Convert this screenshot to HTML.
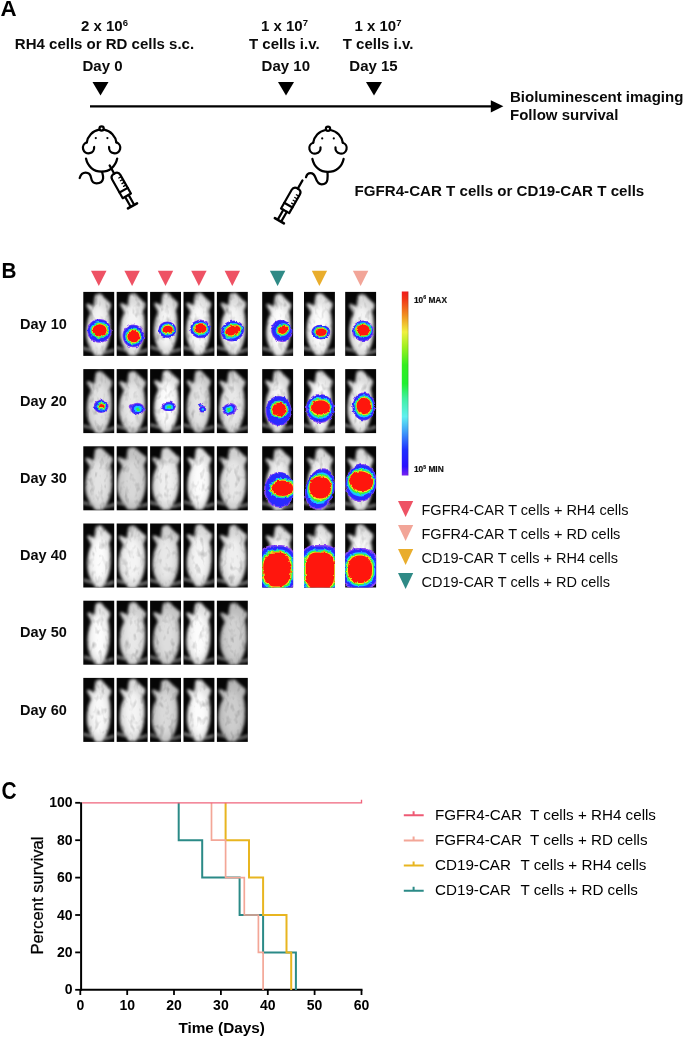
<!DOCTYPE html>
<html lang="en"><head><meta charset="utf-8"><title>Figure</title>
<style>
html,body{margin:0;padding:0;background:#fff;}
body{width:685px;height:1038px;overflow:hidden;}
svg{display:block;}
text{font-family:"Liberation Sans",sans-serif;fill:#0a0a0a;}
.b{font-weight:bold;}
.t15{font-size:15px;font-weight:bold;}
.pl{font-size:22.3px;font-weight:bold;fill:#000;}
.dl{font-size:14.5px;font-weight:bold;}
.lg{font-size:14.5px;}
.tk{font-size:14px;font-weight:bold;fill:#000;}
.cb{font-size:9.3px;font-weight:bold;fill:#111;stroke:#111;stroke-width:0.2px;}
</style></head><body>
<svg width="685" height="1038" viewBox="0 0 685 1038">
<defs>
<filter id="bl1" x="-20%" y="-20%" width="140%" height="140%"><feGaussianBlur stdDeviation="1.6"/></filter>
<filter id="bl2" x="-20%" y="-20%" width="140%" height="140%"><feGaussianBlur stdDeviation="0.7"/></filter>
<filter id="bl3" x="-20%" y="-20%" width="140%" height="140%"><feGaussianBlur stdDeviation="2.5"/></filter>
<filter id="sg" x="-20%" y="-20%" width="140%" height="140%"><feTurbulence type="fractalNoise" baseFrequency="0.3" numOctaves="2" seed="11" result="t"/><feDisplacementMap in="SourceGraphic" in2="t" scale="3" xChannelSelector="R" yChannelSelector="G" result="d"/><feGaussianBlur in="d" stdDeviation="0.55"/></filter>
<filter id="soft" x="-5%" y="-5%" width="110%" height="110%"><feGaussianBlur stdDeviation="0.35"/></filter>
<linearGradient id="cbar" x1="0" y1="0" x2="0" y2="1">
<stop offset="0" stop-color="#f01c1c"/>
<stop offset="0.04" stop-color="#f23416"/>
<stop offset="0.13" stop-color="#f09020"/>
<stop offset="0.22" stop-color="#f0f040"/>
<stop offset="0.30" stop-color="#a0f020"/>
<stop offset="0.40" stop-color="#34ee20"/>
<stop offset="0.50" stop-color="#20f030"/>
<stop offset="0.58" stop-color="#40f0a0"/>
<stop offset="0.68" stop-color="#60f0f0"/>
<stop offset="0.76" stop-color="#40a0f8"/>
<stop offset="0.86" stop-color="#2030ff"/>
<stop offset="0.95" stop-color="#2a10ff"/>
<stop offset="1" stop-color="#7a22f2"/>
</linearGradient>
<g id="mouse" fill="none" stroke="#000" stroke-width="2.25" stroke-linecap="round" stroke-linejoin="round">
<circle cx="0" cy="0" r="2.1"/>
<path d="M-2.5,1.3 C-9.2,2.5 -13.9,8 -14.8,14"/>
<path d="M2.5,1.3 C9.2,2.5 13.9,8 14.8,14"/>
<path d="M-14.8,14 A5.6,5.6 0 1 0 -7.5,18.6"/>
<path d="M14.8,14 A5.6,5.6 0 1 1 7.5,18.6"/>
<circle cx="-5.8" cy="9.7" r="1.1" fill="#000" stroke="none"/>
<circle cx="5.8" cy="9.7" r="1.1" fill="#000" stroke="none"/>
<path d="M-15.6,30.2 C-14,38 -8,43.2 0,43.2 C8,43.2 14,38 15.6,30.2"/>
</g>
<g id="syr" fill="none" stroke="#000" stroke-width="2.2" stroke-linecap="round" stroke-linejoin="round">
<path d="M0,0 L0,9.5"/>
<path d="M-1.6,9.5 L1.6,9.5 C3.8,10 4.7,11.5 4.7,13.5 L4.7,35 L-4.7,35 L-4.7,13.5 C-4.7,11.5 -3.8,10 -1.6,9.5 Z"/>
<path d="M-4.7,28.5 L4.7,28.5"/>
<path d="M4.7,15.5 L1.8,15.5 M4.7,18.7 L1.8,18.7 M4.7,21.9 L1.8,21.9 M4.7,25.1 L1.8,25.1" stroke-width="1.3"/>
<path d="M-2,35 L-2,45.5 M2,35 L2,45.5"/>
<path d="M-5.2,46.5 L5.2,46.5" stroke-width="2.6"/>
</g>
</defs>
<rect width="685" height="1038" fill="#fff"/>

<g id="secA">
<text class="pl" x="0.5" y="16">A</text>
<text class="t15" x="104.5" y="31.3" text-anchor="middle">2 x 10<tspan font-size="9.5" dy="-5">6</tspan></text>
<text class="t15" x="104.5" y="49.0" text-anchor="middle">RH4 cells or RD cells s.c.</text>
<text class="t15" x="102.5" y="70.5" text-anchor="middle">Day 0</text>
<text class="t15" x="284.5" y="30.8" text-anchor="middle">1 x 10<tspan font-size="9.5" dy="-5">7</tspan></text>
<text class="t15" x="284.3" y="49.0" text-anchor="middle">T cells i.v.</text>
<text class="t15" x="285.8" y="70.5" text-anchor="middle">Day 10</text>
<text class="t15" x="378" y="30.8" text-anchor="middle">1 x 10<tspan font-size="9.5" dy="-5">7</tspan></text>
<text class="t15" x="378" y="49.0" text-anchor="middle">T cells i.v.</text>
<text class="t15" x="373.5" y="70.5" text-anchor="middle">Day 15</text>
<path d="M92.5,82 L108.5,82 L100.5,95.5 Z" fill="#000"/>
<path d="M278,82 L294,82 L286,95.5 Z" fill="#000"/>
<path d="M366,82 L382,82 L374,95.5 Z" fill="#000"/>
<path d="M90,106.3 L493,106.3" stroke="#000" stroke-width="2.3" fill="none"/>
<path d="M490.8,100.2 L503.4,106.3 L490.8,112.4 Z" fill="#000"/>
<text class="t15" x="510" y="101.8">Bioluminescent imaging</text>
<text class="t15" x="510" y="119.9">Follow survival</text>
<text class="t15" x="354.6" y="195.9" style="font-size:15.12px">FGFR4-CAR T cells or CD19-CAR T cells</text>
<g transform="translate(101.6,128.4)"><use href="#mouse"/><path d="M0.5,43.5 C1.2,46 1.8,48 1.5,50 C1,53.5 -2,55 -5,55 C-8.5,55 -10,52.5 -10.5,49.5 C-11,46.5 -13,44.3 -16,44.3 C-19,44.3 -21,46.5 -21.9,49.6" fill="none" stroke="#000" stroke-width="2.25" stroke-linecap="round"/></g>
<g transform="translate(109.6,165.4) rotate(-29.5)"><use href="#syr"/></g>
<g transform="translate(328,128.7)"><use href="#mouse"/><path d="M-0.5,43.5 C-0.3,46 -0.3,49 -0.6,51 C-1,54 -3.5,55.7 -6.3,55.7 C-10,55.7 -11.5,52 -12.5,49 C-13.5,46 -15,44.3 -17.5,44.3 C-20,44.3 -21.5,46.5 -22,48.5" fill="none" stroke="#000" stroke-width="2.25" stroke-linecap="round"/></g>
<g transform="translate(302.5,180.4) rotate(29.8)"><use href="#syr"/></g>
</g>
<g id="secB">
<text class="pl" transform="translate(1.6,277.9) scale(0.93,1)">B</text>
<path d="M91.0,270.7 L106.5,270.7 L98.8,286.0 Z" fill="#ee5264"/>
<path d="M124.4,270.7 L139.8,270.7 L132.1,286.0 Z" fill="#ee5264"/>
<path d="M157.8,270.7 L173.2,270.7 L165.5,286.0 Z" fill="#ee5264"/>
<path d="M191.2,270.7 L206.6,270.7 L198.9,286.0 Z" fill="#ee5264"/>
<path d="M224.6,270.7 L240.0,270.7 L232.3,286.0 Z" fill="#ee5264"/>
<path d="M269.9,270.7 L285.3,270.7 L277.6,286.0 Z" fill="#2f8a86"/>
<path d="M311.8,270.7 L327.1,270.7 L319.4,286.0 Z" fill="#e9ad2c"/>
<path d="M352.9,270.7 L368.3,270.7 L360.6,286.0 Z" fill="#f2a598"/>
<text class="dl" x="20" y="328.5">Day 10</text>
<text class="dl" x="20" y="405.7">Day 20</text>
<text class="dl" x="20" y="482.9">Day 30</text>
<text class="dl" x="20" y="560.1">Day 40</text>
<text class="dl" x="20" y="637.3">Day 50</text>
<text class="dl" x="20" y="714.5">Day 60</text>
<defs><filter id="fur0" x="-15%" y="-10%" width="130%" height="120%" color-interpolation-filters="sRGB"><feGaussianBlur in="SourceGraphic" stdDeviation="1.4" result="b"/><feTurbulence type="fractalNoise" baseFrequency="0.2 0.12" numOctaves="2" seed="3" result="t0"/><feGaussianBlur in="t0" stdDeviation="0.5" result="t"/><feColorMatrix in="t" type="matrix" values="0.34 0.34 0 0 0.66  0.34 0.34 0 0 0.66  0.34 0.34 0 0 0.66  0 0 0 0 1" result="g"/><feBlend in="b" in2="g" mode="multiply" result="m"/><feComposite in="m" in2="b" operator="in"/></filter><filter id="fur1" x="-15%" y="-10%" width="130%" height="120%" color-interpolation-filters="sRGB"><feGaussianBlur in="SourceGraphic" stdDeviation="1.4" result="b"/><feTurbulence type="fractalNoise" baseFrequency="0.2 0.12" numOctaves="2" seed="10" result="t0"/><feGaussianBlur in="t0" stdDeviation="0.5" result="t"/><feColorMatrix in="t" type="matrix" values="0.34 0.34 0 0 0.66  0.34 0.34 0 0 0.66  0.34 0.34 0 0 0.66  0 0 0 0 1" result="g"/><feBlend in="b" in2="g" mode="multiply" result="m"/><feComposite in="m" in2="b" operator="in"/></filter><filter id="fur2" x="-15%" y="-10%" width="130%" height="120%" color-interpolation-filters="sRGB"><feGaussianBlur in="SourceGraphic" stdDeviation="1.4" result="b"/><feTurbulence type="fractalNoise" baseFrequency="0.2 0.12" numOctaves="2" seed="17" result="t0"/><feGaussianBlur in="t0" stdDeviation="0.5" result="t"/><feColorMatrix in="t" type="matrix" values="0.34 0.34 0 0 0.66  0.34 0.34 0 0 0.66  0.34 0.34 0 0 0.66  0 0 0 0 1" result="g"/><feBlend in="b" in2="g" mode="multiply" result="m"/><feComposite in="m" in2="b" operator="in"/></filter><filter id="fur3" x="-15%" y="-10%" width="130%" height="120%" color-interpolation-filters="sRGB"><feGaussianBlur in="SourceGraphic" stdDeviation="1.4" result="b"/><feTurbulence type="fractalNoise" baseFrequency="0.2 0.12" numOctaves="2" seed="24" result="t0"/><feGaussianBlur in="t0" stdDeviation="0.5" result="t"/><feColorMatrix in="t" type="matrix" values="0.34 0.34 0 0 0.66  0.34 0.34 0 0 0.66  0.34 0.34 0 0 0.66  0 0 0 0 1" result="g"/><feBlend in="b" in2="g" mode="multiply" result="m"/><feComposite in="m" in2="b" operator="in"/></filter><filter id="fur4" x="-15%" y="-10%" width="130%" height="120%" color-interpolation-filters="sRGB"><feGaussianBlur in="SourceGraphic" stdDeviation="1.4" result="b"/><feTurbulence type="fractalNoise" baseFrequency="0.2 0.12" numOctaves="2" seed="31" result="t0"/><feGaussianBlur in="t0" stdDeviation="0.5" result="t"/><feColorMatrix in="t" type="matrix" values="0.34 0.34 0 0 0.66  0.34 0.34 0 0 0.66  0.34 0.34 0 0 0.66  0 0 0 0 1" result="g"/><feBlend in="b" in2="g" mode="multiply" result="m"/><feComposite in="m" in2="b" operator="in"/></filter><g id="ms"><path d="M12.5,2.5 L17,1.2 C19,1.5 20.5,3 22,5 L26,8.5 L29.5,11.5 L29,15 L27,19 C28.6,25 29,32 28.6,39 C28.2,46 26.5,53 23,58.5 L19.5,63.5 L12.5,63.5 L8.5,58 C5,53 3.2,48 2.8,43 C2.5,38 3,32 4.5,27 L7.5,20.5 L2.6,12.6 L3.8,11 L11,14 C11.3,10 11.7,6 12.5,2.5 Z" fill="#e2e2e2"/><ellipse cx="16.3" cy="35" rx="9" ry="22" fill="#fff" opacity="0.9" filter="url(#bl3)"/><path d="M-2,55.5 L10,58.6 M22,60.5 L33,57.6" stroke="#9a9a9a" stroke-width="1.8" opacity="0.9"/></g></defs>
<clipPath id="cp1"><rect x="83.3" y="291.9" width="30.9" height="64"/></clipPath><rect x="83.3" y="291.9" width="30.9" height="64" fill="#060606"/><g clip-path="url(#cp1)"><g filter="url(#fur1)" opacity="0.97"><use href="#ms" transform="translate(83.91,292.38) scale(0.913,1)"/></g><g filter="url(#sg)"><ellipse cx="99.4" cy="330.9" rx="12.2" ry="11.8" fill="#8a46f0"/><ellipse cx="99.4" cy="330.8" rx="11.4" ry="11.0" fill="#2b2bff"/><ellipse cx="99.6" cy="330.2" rx="9.4" ry="8.3" fill="#18c8ff"/><ellipse cx="99.6" cy="330.2" rx="8.6" ry="7.5" fill="#3cf03c"/><ellipse cx="99.6" cy="330.2" rx="7.7" ry="6.6" fill="#f0f020"/><ellipse cx="99.6" cy="330.2" rx="7.0" ry="6.0" fill="#ff1808"/></g></g>
<clipPath id="cp2"><rect x="116.7" y="291.9" width="30.9" height="64"/></clipPath><rect x="116.7" y="291.9" width="30.9" height="64" fill="#060606"/><g clip-path="url(#cp2)"><g filter="url(#fur2)" opacity="0.97"><use href="#ms" transform="translate(117.70,291.95) scale(0.933,1)"/></g><g filter="url(#sg)"><ellipse cx="133.3" cy="335.9" rx="10.8" ry="11.4" fill="#8a46f0"/><ellipse cx="133.3" cy="335.9" rx="10.0" ry="10.6" fill="#2b2bff"/><ellipse cx="133.5" cy="336.2" rx="8.4" ry="8.4" fill="#18c8ff"/><ellipse cx="133.5" cy="336.2" rx="7.6" ry="7.6" fill="#3cf03c"/><ellipse cx="133.5" cy="336.2" rx="6.7" ry="6.7" fill="#f0f020"/><ellipse cx="133.5" cy="336.2" rx="6.0" ry="6.0" fill="#ff1808"/></g></g>
<clipPath id="cp3"><rect x="150.1" y="291.9" width="30.9" height="64"/></clipPath><rect x="150.1" y="291.9" width="30.9" height="64" fill="#060606"/><g clip-path="url(#cp3)"><g filter="url(#fur3)" opacity="0.97"><use href="#ms" transform="translate(151.83,291.46) scale(0.882,1)"/></g><g filter="url(#sg)"><ellipse cx="167.3" cy="329.7" rx="9.0" ry="8.3" fill="#8a46f0"/><ellipse cx="167.4" cy="329.7" rx="8.5" ry="7.7" fill="#2b2bff"/><ellipse cx="167.6" cy="329.5" rx="7.0" ry="6.0" fill="#18c8ff"/><ellipse cx="167.7" cy="329.5" rx="6.2" ry="5.1" fill="#3cf03c"/><ellipse cx="167.7" cy="329.4" rx="5.5" ry="4.3" fill="#f0f020"/><ellipse cx="167.8" cy="329.4" rx="5.0" ry="3.7" fill="#ff1808"/></g></g>
<clipPath id="cp4"><rect x="183.5" y="291.9" width="30.9" height="64"/></clipPath><rect x="183.5" y="291.9" width="30.9" height="64" fill="#060606"/><g clip-path="url(#cp4)"><g filter="url(#fur4)" opacity="0.99"><use href="#ms" transform="translate(183.90,291.54) scale(0.917,1)"/></g><g filter="url(#sg)"><ellipse cx="200.3" cy="328.9" rx="10.2" ry="9.3" fill="#8a46f0"/><ellipse cx="200.3" cy="328.9" rx="9.7" ry="8.7" fill="#2b2bff"/><ellipse cx="200.4" cy="328.8" rx="8.1" ry="6.8" fill="#18c8ff"/><ellipse cx="200.5" cy="328.7" rx="7.3" ry="5.8" fill="#3cf03c"/><ellipse cx="200.6" cy="328.6" rx="6.5" ry="5.0" fill="#f0f020"/><ellipse cx="200.6" cy="328.6" rx="6.0" ry="4.3" fill="#ff1808"/></g></g>
<clipPath id="cp5"><rect x="216.9" y="291.9" width="30.9" height="64"/></clipPath><rect x="216.9" y="291.9" width="30.9" height="64" fill="#060606"/><g clip-path="url(#cp5)"><g filter="url(#fur0)" opacity="0.97"><use href="#ms" transform="translate(218.20,291.59) scale(0.947,1)"/></g><g filter="url(#sg)"><ellipse cx="232.6" cy="330.9" rx="11.8" ry="10.3" fill="#8a46f0" transform="rotate(-18 232.6 330.9)"/><ellipse cx="232.6" cy="330.9" rx="11.3" ry="9.6" fill="#2b2bff" transform="rotate(-18 232.6 330.9)"/><ellipse cx="232.7" cy="330.8" rx="9.8" ry="7.5" fill="#18c8ff" transform="rotate(-18 232.7 330.8)"/><ellipse cx="232.7" cy="330.7" rx="9.0" ry="6.3" fill="#3cf03c" transform="rotate(-18 232.7 330.7)"/><ellipse cx="232.8" cy="330.6" rx="8.3" ry="5.3" fill="#f0f020" transform="rotate(-18 232.8 330.6)"/><ellipse cx="232.8" cy="330.6" rx="7.8" ry="4.6" fill="#ff1808" transform="rotate(-18 232.8 330.6)"/></g></g>
<clipPath id="cp6"><rect x="83.3" y="369.1" width="30.9" height="64"/></clipPath><rect x="83.3" y="369.1" width="30.9" height="64" fill="#060606"/><g clip-path="url(#cp6)"><g filter="url(#fur1)" opacity="0.90"><use href="#ms" transform="translate(84.37,370.02) scale(0.939,1)"/></g><g filter="url(#sg)"><ellipse cx="101.1" cy="406.2" rx="7.4" ry="6.8" fill="#8a46f0"/><ellipse cx="101.1" cy="406.2" rx="6.6" ry="6.0" fill="#2b2bff"/><ellipse cx="101.3" cy="406.2" rx="4.6" ry="4.4" fill="#18c8ff"/><ellipse cx="101.3" cy="406.2" rx="3.8" ry="3.6" fill="#3cf03c"/><ellipse cx="101.3" cy="406.2" rx="2.9" ry="2.7" fill="#f0f020"/><ellipse cx="101.3" cy="406.2" rx="2.2" ry="2.1" fill="#ff1808"/></g></g>
<clipPath id="cp7"><rect x="116.7" y="369.1" width="30.9" height="64"/></clipPath><rect x="116.7" y="369.1" width="30.9" height="64" fill="#060606"/><g clip-path="url(#cp7)"><g filter="url(#fur2)" opacity="0.92"><use href="#ms" transform="translate(116.67,370.06) scale(0.983,1)"/></g><g filter="url(#sg)"><ellipse cx="131.8" cy="406.6" rx="3" ry="2.6" fill="#8a46f0"/><ellipse cx="132" cy="406.6" rx="2.1" ry="1.8" fill="#2b2bff"/><ellipse cx="137.4" cy="408.8" rx="7.2" ry="6.0" fill="#8a46f0"/><ellipse cx="137.5" cy="408.8" rx="6.1" ry="5.1" fill="#2b2bff"/><ellipse cx="137.8" cy="408.9" rx="3.9" ry="3.2" fill="#18c8ff"/><ellipse cx="138.0" cy="409.0" rx="1.9" ry="1.5" fill="#3cf03c"/></g></g>
<clipPath id="cp8"><rect x="150.1" y="369.1" width="30.9" height="64"/></clipPath><rect x="150.1" y="369.1" width="30.9" height="64" fill="#060606"/><g clip-path="url(#cp8)"><g filter="url(#fur3)" opacity="1.00"><use href="#ms" transform="translate(151.69,369.03) scale(0.932,1)"/></g><g filter="url(#sg)"><ellipse cx="168.8" cy="406.7" rx="7.2" ry="5.0" fill="#8a46f0"/><ellipse cx="168.9" cy="406.7" rx="6.2" ry="4.2" fill="#2b2bff"/><ellipse cx="169.0" cy="406.8" rx="4.1" ry="2.6" fill="#18c8ff"/><ellipse cx="169.2" cy="406.8" rx="2.2" ry="1.2" fill="#3cf03c"/></g></g>
<clipPath id="cp9"><rect x="183.5" y="369.1" width="30.9" height="64"/></clipPath><rect x="183.5" y="369.1" width="30.9" height="64" fill="#060606"/><g clip-path="url(#cp9)"><g filter="url(#fur4)" opacity="0.90"><use href="#ms" transform="translate(184.47,369.06) scale(0.886,1)"/></g><g filter="url(#sg)"><ellipse cx="201.2" cy="405.3" rx="2.4" ry="2.2" fill="#8a46f0"/><ellipse cx="201.2" cy="405.3" rx="1.9" ry="1.8" fill="#2b2bff"/><ellipse cx="201.2" cy="405.3" rx="0.8" ry="0.8" fill="#18c8ff"/><ellipse cx="202.6" cy="409.2" rx="3.6" ry="3.4" fill="#8a46f0"/><ellipse cx="202.7" cy="409.3" rx="2.9" ry="2.7" fill="#2b2bff"/><ellipse cx="202.8" cy="409.4" rx="1.2" ry="1.2" fill="#18c8ff"/></g></g>
<clipPath id="cp10"><rect x="216.9" y="369.1" width="30.9" height="64"/></clipPath><rect x="216.9" y="369.1" width="30.9" height="64" fill="#060606"/><g clip-path="url(#cp10)"><g filter="url(#fur0)" opacity="0.92"><use href="#ms" transform="translate(216.80,369.47) scale(0.963,1)"/></g><g filter="url(#sg)"><ellipse cx="229.6" cy="409.1" rx="7.4" ry="5.8" fill="#8a46f0" transform="rotate(-20 229.6 409.1)"/><ellipse cx="229.5" cy="409.2" rx="6.3" ry="4.9" fill="#2b2bff" transform="rotate(-20 229.5 409.2)"/><ellipse cx="229.2" cy="409.3" rx="3.9" ry="3.0" fill="#18c8ff" transform="rotate(-20 229.2 409.3)"/><ellipse cx="229.0" cy="409.5" rx="1.8" ry="1.3" fill="#3cf03c" transform="rotate(-20 229.0 409.5)"/></g></g>
<clipPath id="cp11"><rect x="83.3" y="446.3" width="30.9" height="64"/></clipPath><rect x="83.3" y="446.3" width="30.9" height="64" fill="#060606"/><g clip-path="url(#cp11)"><g filter="url(#fur1)" opacity="0.90"><use href="#ms" transform="translate(82.88,446.62) scale(1.006,1)"/></g></g>
<clipPath id="cp12"><rect x="116.7" y="446.3" width="30.9" height="64"/></clipPath><rect x="116.7" y="446.3" width="30.9" height="64" fill="#060606"/><g clip-path="url(#cp12)"><g filter="url(#fur2)" opacity="0.86"><use href="#ms" transform="translate(114.54,446.11) scale(1.083,1)"/></g></g>
<clipPath id="cp13"><rect x="150.1" y="446.3" width="30.9" height="64"/></clipPath><rect x="150.1" y="446.3" width="30.9" height="64" fill="#060606"/><g clip-path="url(#cp13)"><g filter="url(#fur3)" opacity="0.95"><use href="#ms" transform="translate(149.76,446.27) scale(1.007,1)"/></g></g>
<clipPath id="cp14"><rect x="183.5" y="446.3" width="30.9" height="64"/></clipPath><rect x="183.5" y="446.3" width="30.9" height="64" fill="#060606"/><g clip-path="url(#cp14)"><g filter="url(#fur4)" opacity="1.00"><use href="#ms" transform="translate(185.11,446.25) scale(0.883,1)"/></g></g>
<clipPath id="cp15"><rect x="216.9" y="446.3" width="30.9" height="64"/></clipPath><rect x="216.9" y="446.3" width="30.9" height="64" fill="#060606"/><g clip-path="url(#cp15)"><g filter="url(#fur0)" opacity="0.92"><use href="#ms" transform="translate(216.98,446.17) scale(1.012,1)"/></g></g>
<clipPath id="cp16"><rect x="83.3" y="523.5" width="30.9" height="64"/></clipPath><rect x="83.3" y="523.5" width="30.9" height="64" fill="#060606"/><g clip-path="url(#cp16)"><g filter="url(#fur1)" opacity="1.00"><use href="#ms" transform="translate(85.05,524.31) scale(0.883,1)"/></g></g>
<clipPath id="cp17"><rect x="116.7" y="523.5" width="30.9" height="64"/></clipPath><rect x="116.7" y="523.5" width="30.9" height="64" fill="#060606"/><g clip-path="url(#cp17)"><g filter="url(#fur2)" opacity="0.97"><use href="#ms" transform="translate(116.08,524.47) scale(1.009,1)"/></g></g>
<clipPath id="cp18"><rect x="150.1" y="523.5" width="30.9" height="64"/></clipPath><rect x="150.1" y="523.5" width="30.9" height="64" fill="#060606"/><g clip-path="url(#cp18)"><g filter="url(#fur3)" opacity="0.92"><use href="#ms" transform="translate(150.09,524.14) scale(0.985,1)"/></g></g>
<clipPath id="cp19"><rect x="183.5" y="523.5" width="30.9" height="64"/></clipPath><rect x="183.5" y="523.5" width="30.9" height="64" fill="#060606"/><g clip-path="url(#cp19)"><g filter="url(#fur4)" opacity="0.97"><use href="#ms" transform="translate(184.36,523.06) scale(0.936,1)"/></g></g>
<clipPath id="cp20"><rect x="216.9" y="523.5" width="30.9" height="64"/></clipPath><rect x="216.9" y="523.5" width="30.9" height="64" fill="#060606"/><g clip-path="url(#cp20)"><g filter="url(#fur0)" opacity="0.95"><use href="#ms" transform="translate(217.17,523.86) scale(1.007,1)"/></g></g>
<clipPath id="cp21"><rect x="83.3" y="600.7" width="30.9" height="64"/></clipPath><rect x="83.3" y="600.7" width="30.9" height="64" fill="#060606"/><g clip-path="url(#cp21)"><g filter="url(#fur1)" opacity="1.00"><use href="#ms" transform="translate(85.41,601.24) scale(0.835,1)"/></g></g>
<clipPath id="cp22"><rect x="116.7" y="600.7" width="30.9" height="64"/></clipPath><rect x="116.7" y="600.7" width="30.9" height="64" fill="#060606"/><g clip-path="url(#cp22)"><g filter="url(#fur2)" opacity="0.92"><use href="#ms" transform="translate(117.30,600.88) scale(0.964,1)"/></g></g>
<clipPath id="cp23"><rect x="150.1" y="600.7" width="30.9" height="64"/></clipPath><rect x="150.1" y="600.7" width="30.9" height="64" fill="#060606"/><g clip-path="url(#cp23)"><g filter="url(#fur3)" opacity="0.88"><use href="#ms" transform="translate(150.59,600.91) scale(1.014,1)"/></g></g>
<clipPath id="cp24"><rect x="183.5" y="600.7" width="30.9" height="64"/></clipPath><rect x="183.5" y="600.7" width="30.9" height="64" fill="#060606"/><g clip-path="url(#cp24)"><g filter="url(#fur4)" opacity="1.00"><use href="#ms" transform="translate(184.05,601.25) scale(0.907,1)"/></g></g>
<clipPath id="cp25"><rect x="216.9" y="600.7" width="30.9" height="64"/></clipPath><rect x="216.9" y="600.7" width="30.9" height="64" fill="#060606"/><g clip-path="url(#cp25)"><g filter="url(#fur0)" opacity="0.83"><use href="#ms" transform="translate(217.60,601.43) scale(1.006,1)"/></g></g>
<clipPath id="cp26"><rect x="83.3" y="677.9" width="30.9" height="64"/></clipPath><rect x="83.3" y="677.9" width="30.9" height="64" fill="#060606"/><g clip-path="url(#cp26)"><g filter="url(#fur1)" opacity="0.99"><use href="#ms" transform="translate(84.67,678.40) scale(0.891,1)"/></g></g>
<clipPath id="cp27"><rect x="116.7" y="677.9" width="30.9" height="64"/></clipPath><rect x="116.7" y="677.9" width="30.9" height="64" fill="#060606"/><g clip-path="url(#cp27)"><g filter="url(#fur2)" opacity="0.97"><use href="#ms" transform="translate(117.44,677.65) scale(0.941,1)"/></g></g>
<clipPath id="cp28"><rect x="150.1" y="677.9" width="30.9" height="64"/></clipPath><rect x="150.1" y="677.9" width="30.9" height="64" fill="#060606"/><g clip-path="url(#cp28)"><g filter="url(#fur3)" opacity="0.86"><use href="#ms" transform="translate(149.44,678.55) scale(0.985,1)"/></g></g>
<clipPath id="cp29"><rect x="183.5" y="677.9" width="30.9" height="64"/></clipPath><rect x="183.5" y="677.9" width="30.9" height="64" fill="#060606"/><g clip-path="url(#cp29)"><g filter="url(#fur4)" opacity="1.00"><use href="#ms" transform="translate(184.71,677.99) scale(0.885,1)"/></g></g>
<clipPath id="cp30"><rect x="216.9" y="677.9" width="30.9" height="64"/></clipPath><rect x="216.9" y="677.9" width="30.9" height="64" fill="#060606"/><g clip-path="url(#cp30)"><g filter="url(#fur0)" opacity="0.81"><use href="#ms" transform="translate(215.82,678.07) scale(1.015,1)"/></g></g>
<clipPath id="cp31"><rect x="262.2" y="291.9" width="30.9" height="64"/></clipPath><rect x="262.2" y="291.9" width="30.9" height="64" fill="#060606"/><g clip-path="url(#cp31)"><g filter="url(#fur1)" opacity="1.00"><use href="#ms" transform="translate(263.99,292.63) scale(0.922,1)"/></g><g filter="url(#sg)"><ellipse cx="281.8" cy="330.9" rx="10.5" ry="11.4" fill="#8a46f0" transform="rotate(-30 281.8 330.9)"/><ellipse cx="281.9" cy="330.7" rx="9.7" ry="10.6" fill="#2b2bff" transform="rotate(-30 281.9 330.7)"/><ellipse cx="282.8" cy="329.8" rx="7.4" ry="6.2" fill="#18c8ff" transform="rotate(-30 282.8 329.8)"/><ellipse cx="282.8" cy="329.8" rx="6.6" ry="5.4" fill="#3cf03c" transform="rotate(-30 282.8 329.8)"/><ellipse cx="282.8" cy="329.8" rx="5.7" ry="4.5" fill="#f0f020" transform="rotate(-30 282.8 329.8)"/><ellipse cx="282.8" cy="329.8" rx="5.0" ry="3.9" fill="#ff1808" transform="rotate(-30 282.8 329.8)"/></g></g>
<clipPath id="cp32"><rect x="304.0" y="291.9" width="30.9" height="64"/></clipPath><rect x="304.0" y="291.9" width="30.9" height="64" fill="#060606"/><g clip-path="url(#cp32)"><g filter="url(#fur2)" opacity="1.00"><use href="#ms" transform="translate(304.05,292.02) scale(0.965,1)"/></g><g filter="url(#sg)"><ellipse cx="320.8" cy="332.1" rx="9.5" ry="7.4" fill="#8a46f0"/><ellipse cx="320.8" cy="332.1" rx="9.0" ry="7.0" fill="#2b2bff"/><ellipse cx="320.9" cy="332.1" rx="7.5" ry="5.6" fill="#18c8ff"/><ellipse cx="320.9" cy="332.2" rx="6.7" ry="4.9" fill="#3cf03c"/><ellipse cx="321.0" cy="332.2" rx="6.0" ry="4.3" fill="#f0f020"/><ellipse cx="321.0" cy="332.2" rx="5.5" ry="3.8" fill="#ff1808"/></g></g>
<clipPath id="cp33"><rect x="345.2" y="291.9" width="30.9" height="64"/></clipPath><rect x="345.2" y="291.9" width="30.9" height="64" fill="#060606"/><g clip-path="url(#cp33)"><g filter="url(#fur3)" opacity="0.97"><use href="#ms" transform="translate(346.65,292.84) scale(0.944,1)"/></g><g filter="url(#sg)"><ellipse cx="362.9" cy="330.9" rx="10.7" ry="10.5" fill="#8a46f0"/><ellipse cx="362.9" cy="330.8" rx="9.9" ry="9.7" fill="#2b2bff"/><ellipse cx="363.2" cy="330.0" rx="8.8" ry="7.8" fill="#18c8ff"/><ellipse cx="363.2" cy="330.0" rx="8.0" ry="7.0" fill="#3cf03c"/><ellipse cx="363.2" cy="330.0" rx="7.1" ry="6.1" fill="#f0f020"/><ellipse cx="363.2" cy="330.0" rx="6.5" ry="5.5" fill="#ff1808"/></g></g>
<clipPath id="cp34"><rect x="262.2" y="369.1" width="30.9" height="64"/></clipPath><rect x="262.2" y="369.1" width="30.9" height="64" fill="#060606"/><g clip-path="url(#cp34)"><g filter="url(#fur4)" opacity="0.97"><use href="#ms" transform="translate(262.96,368.95) scale(0.906,1)"/></g><g filter="url(#sg)"><ellipse cx="278.6" cy="411.0" rx="13.0" ry="15.0" fill="#8a46f0"/><ellipse cx="278.7" cy="410.8" rx="12.2" ry="14.2" fill="#2b2bff"/><ellipse cx="279.2" cy="409.5" rx="9.5" ry="9.0" fill="#18c8ff"/><ellipse cx="279.2" cy="409.5" rx="8.7" ry="8.2" fill="#3cf03c"/><ellipse cx="279.2" cy="409.5" rx="7.8" ry="7.3" fill="#f0f020"/><ellipse cx="279.2" cy="409.5" rx="7.2" ry="6.7" fill="#ff1808"/></g></g>
<clipPath id="cp35"><rect x="304.0" y="369.1" width="30.9" height="64"/></clipPath><rect x="304.0" y="369.1" width="30.9" height="64" fill="#060606"/><g clip-path="url(#cp35)"><g filter="url(#fur0)" opacity="1.00"><use href="#ms" transform="translate(304.81,369.48) scale(0.939,1)"/></g><g filter="url(#sg)"><ellipse cx="320.0" cy="408.5" rx="14.0" ry="14.5" fill="#8a46f0"/><ellipse cx="320.1" cy="408.4" rx="13.5" ry="13.6" fill="#2b2bff"/><ellipse cx="320.2" cy="408.0" rx="11.8" ry="10.8" fill="#18c8ff"/><ellipse cx="320.4" cy="407.8" rx="10.8" ry="9.4" fill="#3cf03c"/><ellipse cx="320.4" cy="407.6" rx="10.1" ry="8.1" fill="#f0f020"/><ellipse cx="320.5" cy="407.5" rx="9.5" ry="7.2" fill="#ff1808"/></g></g>
<clipPath id="cp36"><rect x="345.2" y="369.1" width="30.9" height="64"/></clipPath><rect x="345.2" y="369.1" width="30.9" height="64" fill="#060606"/><g clip-path="url(#cp36)"><g filter="url(#fur1)" opacity="0.97"><use href="#ms" transform="translate(345.12,369.23) scale(0.941,1)"/></g><g filter="url(#sg)"><ellipse cx="363.7" cy="406.6" rx="11.4" ry="14.0" fill="#8a46f0"/><ellipse cx="363.7" cy="406.5" rx="10.9" ry="13.3" fill="#2b2bff"/><ellipse cx="363.9" cy="406.3" rx="9.4" ry="11.1" fill="#18c8ff"/><ellipse cx="363.9" cy="406.2" rx="8.6" ry="9.9" fill="#3cf03c"/><ellipse cx="364.0" cy="406.1" rx="7.9" ry="9.0" fill="#f0f020"/><ellipse cx="364.0" cy="406.0" rx="7.4" ry="8.2" fill="#ff1808"/></g></g>
<clipPath id="cp37"><rect x="262.2" y="446.3" width="30.9" height="64"/></clipPath><rect x="262.2" y="446.3" width="30.9" height="64" fill="#060606"/><g clip-path="url(#cp37)"><g filter="url(#fur2)" opacity="0.95"><use href="#ms" transform="translate(263.07,447.23) scale(0.945,1)"/></g><g filter="url(#sg)"><ellipse cx="279.3" cy="489.8" rx="15.2" ry="17.8" fill="#8a46f0"/><ellipse cx="279.8" cy="489.6" rx="14.4" ry="17.0" fill="#2b2bff"/><ellipse cx="282.5" cy="488.2" rx="13.3" ry="10.1" fill="#18c8ff"/><ellipse cx="282.5" cy="488.2" rx="12.5" ry="9.3" fill="#3cf03c"/><ellipse cx="282.5" cy="488.2" rx="11.6" ry="8.4" fill="#f0f020"/><ellipse cx="282.5" cy="488.2" rx="10.9" ry="7.8" fill="#ff1808"/></g></g>
<clipPath id="cp38"><rect x="304.0" y="446.3" width="30.9" height="64"/></clipPath><rect x="304.0" y="446.3" width="30.9" height="64" fill="#060606"/><g clip-path="url(#cp38)"><g filter="url(#fur3)" opacity="0.97"><use href="#ms" transform="translate(304.58,446.73) scale(0.958,1)"/></g><g filter="url(#sg)"><ellipse cx="320.0" cy="489.0" rx="14.5" ry="21.0" fill="#8a46f0" transform="rotate(15 320.0 489.0)"/><ellipse cx="320.0" cy="488.8" rx="14.1" ry="19.8" fill="#2b2bff" transform="rotate(15 320.0 488.8)"/><ellipse cx="320.1" cy="488.2" rx="12.8" ry="16.0" fill="#18c8ff" transform="rotate(15 320.1 488.2)"/><ellipse cx="320.2" cy="487.9" rx="12.1" ry="14.0" fill="#3cf03c" transform="rotate(15 320.2 487.9)"/><ellipse cx="320.3" cy="487.6" rx="11.5" ry="12.3" fill="#f0f020" transform="rotate(15 320.3 487.6)"/><ellipse cx="320.3" cy="487.4" rx="11.0" ry="11.0" fill="#ff1808" transform="rotate(15 320.3 487.4)"/></g></g>
<clipPath id="cp39"><rect x="345.2" y="446.3" width="30.9" height="64"/></clipPath><rect x="345.2" y="446.3" width="30.9" height="64" fill="#060606"/><g clip-path="url(#cp39)"><g filter="url(#fur4)" opacity="0.97"><use href="#ms" transform="translate(344.96,447.15) scale(0.957,1)"/></g><g filter="url(#sg)"><ellipse cx="361.0" cy="483.0" rx="15.5" ry="19.0" fill="#8a46f0" transform="rotate(10 361.0 483.0)"/><ellipse cx="361.0" cy="482.8" rx="15.1" ry="17.9" fill="#2b2bff" transform="rotate(10 361.0 482.8)"/><ellipse cx="361.1" cy="482.1" rx="13.8" ry="14.4" fill="#18c8ff" transform="rotate(10 361.1 482.1)"/><ellipse cx="361.1" cy="481.7" rx="13.1" ry="12.6" fill="#3cf03c" transform="rotate(10 361.1 481.7)"/><ellipse cx="361.2" cy="481.4" rx="12.5" ry="11.0" fill="#f0f020" transform="rotate(10 361.2 481.4)"/><ellipse cx="361.2" cy="481.2" rx="12.0" ry="9.8" fill="#ff1808" transform="rotate(10 361.2 481.2)"/></g></g>
<clipPath id="cp40"><rect x="262.2" y="523.5" width="30.9" height="64"/></clipPath><rect x="262.2" y="523.5" width="30.9" height="64" fill="#060606"/><g clip-path="url(#cp40)"><g filter="url(#fur0)" opacity="0.97"><use href="#ms" transform="translate(263.37,524.20) scale(0.961,1)"/></g><g filter="url(#sg)"><rect x="255.8" y="545.1" width="42.3" height="48.9" rx="17.0" ry="20.0" fill="#8a46f0"/><rect x="257.3" y="546.6" width="39.3" height="45.9" rx="15.8" ry="18.8" fill="#2b2bff"/><rect x="260.1" y="549.4" width="33.7" height="40.3" rx="13.6" ry="16.6" fill="#18c8ff"/><rect x="261.3" y="550.6" width="31.3" height="37.9" rx="12.6" ry="15.6" fill="#3cf03c"/><rect x="262.4" y="551.7" width="29.1" height="35.7" rx="11.7" ry="14.7" fill="#f0f020"/><rect x="263.3" y="552.6" width="27.3" height="33.9" rx="11.0" ry="14.0" fill="#ff1808"/></g></g>
<clipPath id="cp41"><rect x="304.0" y="523.5" width="30.9" height="64"/></clipPath><rect x="304.0" y="523.5" width="30.9" height="64" fill="#060606"/><g clip-path="url(#cp41)"><g filter="url(#fur1)" opacity="0.99"><use href="#ms" transform="translate(304.55,523.16) scale(0.946,1)"/></g><g filter="url(#sg)"><rect x="298.3" y="545.1" width="43.4" height="51.4" rx="16.0" ry="18.0" fill="#8a46f0"/><rect x="299.8" y="546.6" width="40.4" height="48.4" rx="14.8" ry="16.8" fill="#2b2bff"/><rect x="302.6" y="549.4" width="34.8" height="42.8" rx="12.6" ry="14.6" fill="#18c8ff"/><rect x="303.8" y="550.6" width="32.4" height="40.4" rx="11.6" ry="13.6" fill="#3cf03c"/><rect x="304.9" y="551.7" width="30.2" height="38.2" rx="10.7" ry="12.7" fill="#f0f020"/><rect x="305.8" y="552.6" width="28.4" height="36.4" rx="10.0" ry="12.0" fill="#ff1808"/></g></g>
<clipPath id="cp42"><rect x="345.2" y="523.5" width="30.9" height="64"/></clipPath><rect x="345.2" y="523.5" width="30.9" height="64" fill="#060606"/><g clip-path="url(#cp42)"><g filter="url(#fur2)" opacity="1.00"><use href="#ms" transform="translate(345.00,523.10) scale(0.955,1)"/></g><g filter="url(#sg)"><rect x="340.5" y="548.0" width="39.0" height="42.5" rx="17.0" ry="18.0" fill="#8a46f0"/><rect x="342.0" y="549.5" width="36.0" height="39.5" rx="15.8" ry="16.8" fill="#2b2bff"/><rect x="344.8" y="552.3" width="30.4" height="33.9" rx="13.6" ry="14.6" fill="#18c8ff"/><rect x="346.0" y="553.5" width="28.0" height="31.5" rx="12.6" ry="13.6" fill="#3cf03c"/><rect x="347.1" y="554.6" width="25.8" height="29.3" rx="11.7" ry="12.7" fill="#f0f020"/><rect x="348.0" y="555.5" width="24.0" height="27.5" rx="11.0" ry="12.0" fill="#ff1808"/></g></g>
<rect x="401.8" y="291.5" width="6.5" height="184" fill="url(#cbar)"/>
<path d="M408.1,291.5 L408.1,475.5" stroke="#333" stroke-width="0.5" opacity="0.45"/>
<text class="cb" transform="translate(413.9,302.6) scale(0.9,1)">10<tspan font-size="5.8" dy="-3.2">6</tspan><tspan dy="3.2"> MAX</tspan></text>
<text class="cb" transform="translate(413.9,472) scale(0.9,1)">10<tspan font-size="5.8" dy="-3.2">5</tspan><tspan dy="3.2"> MIN</tspan></text>
<path d="M398.0,501.0 L413.2,501.0 L405.6,517.0 Z" fill="#ee5264"/>
<text class="lg" x="421.5" y="515.2">FGFR4-CAR T cells + RH4 cells</text>
<path d="M398.0,525.0 L413.2,525.0 L405.6,541.0 Z" fill="#f2a598"/>
<text class="lg" x="421.5" y="539.2">FGFR4-CAR T cells + RD cells</text>
<path d="M398.0,549.0 L413.2,549.0 L405.6,565.0 Z" fill="#e9ad2c"/>
<text class="lg" x="421.5" y="563.2">CD19-CAR T cells + RH4 cells</text>
<path d="M398.0,573.0 L413.2,573.0 L405.6,589.0 Z" fill="#2f8a86"/>
<text class="lg" x="421.5" y="587.2">CD19-CAR T cells + RD cells</text>
</g>
<g id="secC">
<text class="pl" transform="translate(1.4,799.2) scale(0.9,1)" style="font-size:23.2px">C</text>
<path d="M81.1,802.3 L81.1,990.8" stroke="#000" stroke-width="2" fill="none"/>
<path d="M80.1,989.8 L362.5,989.8" stroke="#000" stroke-width="2" fill="none"/>
<path d="M75.2,989.8 L80.3,989.8" stroke="#000" stroke-width="1.8"/>
<text class="tk" x="72.6" y="994.4" text-anchor="end">0</text>
<path d="M75.2,952.4 L80.3,952.4" stroke="#000" stroke-width="1.8"/>
<text class="tk" x="72.6" y="957.0" text-anchor="end">20</text>
<path d="M75.2,915.0 L80.3,915.0" stroke="#000" stroke-width="1.8"/>
<text class="tk" x="72.6" y="919.6" text-anchor="end">40</text>
<path d="M75.2,877.6 L80.3,877.6" stroke="#000" stroke-width="1.8"/>
<text class="tk" x="72.6" y="882.2" text-anchor="end">60</text>
<path d="M75.2,840.2 L80.3,840.2" stroke="#000" stroke-width="1.8"/>
<text class="tk" x="72.6" y="844.8" text-anchor="end">80</text>
<path d="M75.2,802.8 L80.3,802.8" stroke="#000" stroke-width="1.8"/>
<text class="tk" x="72.6" y="807.4" text-anchor="end">100</text>
<path d="M80.3,989.8 L80.3,995.0" stroke="#000" stroke-width="1.8"/>
<text class="tk" x="80.3" y="1009.8" text-anchor="middle">0</text>
<path d="M127.2,989.8 L127.2,995.0" stroke="#000" stroke-width="1.8"/>
<text class="tk" x="127.2" y="1009.8" text-anchor="middle">10</text>
<path d="M174.0,989.8 L174.0,995.0" stroke="#000" stroke-width="1.8"/>
<text class="tk" x="174.0" y="1009.8" text-anchor="middle">20</text>
<path d="M220.9,989.8 L220.9,995.0" stroke="#000" stroke-width="1.8"/>
<text class="tk" x="220.9" y="1009.8" text-anchor="middle">30</text>
<path d="M267.8,989.8 L267.8,995.0" stroke="#000" stroke-width="1.8"/>
<text class="tk" x="267.8" y="1009.8" text-anchor="middle">40</text>
<path d="M314.6,989.8 L314.6,995.0" stroke="#000" stroke-width="1.8"/>
<text class="tk" x="314.6" y="1009.8" text-anchor="middle">50</text>
<path d="M361.5,989.8 L361.5,995.0" stroke="#000" stroke-width="1.8"/>
<text class="tk" x="361.5" y="1009.8" text-anchor="middle">60</text>
<path d="M178.7,802.8 L178.7,840.2 L202.2,840.2 L202.2,877.6 L239.6,877.6 L239.6,915.0 L263.1,915.0 L263.1,952.4 L295.9,952.4 L295.9,990.1" fill="none" stroke="#2b8a87" stroke-width="2.0" stroke-linejoin="miter"/>
<path d="M225.6,802.8 L225.6,840.2 L249.0,840.2 L249.0,877.6 L263.1,877.6 L263.1,915.0 L286.5,915.0 L286.5,952.4 L291.2,952.4 L291.2,990.1" fill="none" stroke="#e8b520" stroke-width="2.0" stroke-linejoin="miter"/>
<path d="M211.5,802.8 L211.5,840.2 L225.6,840.2 L225.6,877.6 L244.3,877.6 L244.3,915.0 L258.4,915.0 L258.4,952.4 L263.1,952.4 L263.1,990.1" fill="none" stroke="#f3a697" stroke-width="1.7" stroke-linejoin="miter"/>
<path d="M82.1,802.8 L361.5,802.8 L361.5,799.8" fill="none" stroke="#f0647c" stroke-width="1.35"/>
<text x="221.6" y="1033" text-anchor="middle" style="font-size:15.3px;font-weight:bold;fill:#000">Time (Days)</text>
<text transform="translate(42.8,895.5) rotate(-90)" text-anchor="middle" style="font-size:16.6px;fill:#000;stroke:#000;stroke-width:0.25px">Percent survival</text>
<path d="M403.8,815.2 L423.7,815.2 M413.6,815.2 L413.6,811.2" stroke="#ee5a74" stroke-width="2" fill="none"/>
<text x="435" y="819.9" style="fill:#000;font-size:15.2px">FGFR4-CAR&#160; T cells + RH4 cells</text>
<path d="M403.8,840.4 L423.7,840.4 M413.6,840.4 L413.6,836.4" stroke="#f3a697" stroke-width="2" fill="none"/>
<text x="435" y="845.1" style="fill:#000;font-size:15.2px">FGFR4-CAR&#160; T cells + RD cells</text>
<path d="M403.8,865.5 L423.7,865.5 M413.6,865.5 L413.6,861.5" stroke="#e8b520" stroke-width="2" fill="none"/>
<text x="435" y="870.2" style="fill:#000;font-size:15.2px">CD19-CAR&#160; <tspan dx="1.4">T cells + RH4 cells</tspan></text>
<path d="M403.8,890.7 L423.7,890.7 M413.6,890.7 L413.6,886.7" stroke="#2b8a87" stroke-width="2" fill="none"/>
<text x="435" y="895.4" style="fill:#000;font-size:15.2px">CD19-CAR&#160; <tspan dx="1.4">T cells + RD cells</tspan></text>
</g>
</svg></body></html>
